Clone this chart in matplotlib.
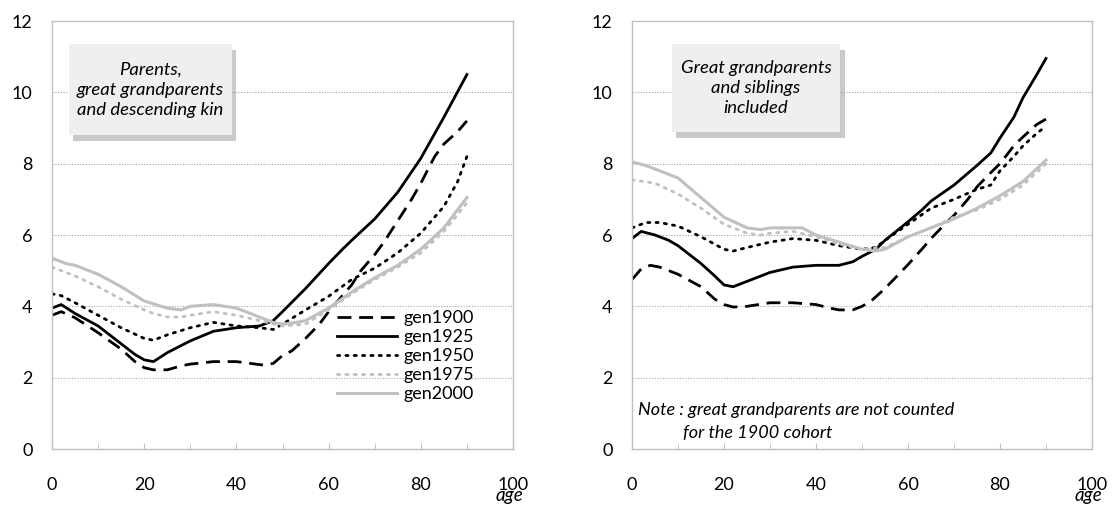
import matplotlib
matplotlib.use('Agg')
import numpy as np
import matplotlib.pyplot as plt
from matplotlib.patches import Rectangle
import matplotlib.patheffects as pe

plt.rcParams['font.family'] = ['Lato', 'DejaVu Sans']

# ── data: number of kin by age, per birth cohort ──
COHORTS = ['gen1900', 'gen1925', 'gen1950', 'gen1975', 'gen2000']

# left panel: parents, great grandparents and descending kin
l_1900_x = [0, 2, 5, 10, 15, 18, 20, 22, 25, 28, 30, 35, 40, 43, 46, 48, 50, 52, 55, 58, 60, 63, 65, 67, 70, 72, 75, 78, 80, 83, 85, 88, 90]
l_1900_y = [3.75, 3.85, 3.68, 3.26, 2.8, 2.45, 2.28, 2.22, 2.22, 2.33, 2.38, 2.45, 2.45, 2.4, 2.35, 2.4, 2.62, 2.75, 3.1, 3.5, 3.85, 4.3, 4.6, 5.0, 5.45, 5.8, 6.4, 7.0, 7.45, 8.2, 8.55, 8.9, 9.2]
l_1925_x = [0, 2, 5, 10, 15, 18, 20, 22, 25, 28, 30, 35, 40, 45, 48, 50, 55, 60, 63, 65, 70, 75, 80, 85, 90]
l_1925_y = [3.95, 4.05, 3.8, 3.45, 2.95, 2.65, 2.5, 2.45, 2.7, 2.9, 3.03, 3.3, 3.4, 3.45, 3.6, 3.85, 4.5, 5.2, 5.6, 5.85, 6.45, 7.2, 8.15, 9.3, 10.5]
l_1950_x = [0, 2, 5, 10, 15, 20, 22, 25, 30, 35, 40, 45, 48, 50, 55, 60, 65, 70, 75, 80, 85, 88, 90]
l_1950_y = [4.35, 4.3, 4.1, 3.75, 3.4, 3.1, 3.05, 3.2, 3.4, 3.55, 3.45, 3.4, 3.35, 3.5, 3.9, 4.28, 4.75, 5.07, 5.5, 6.05, 6.8, 7.5, 8.2]
l_1975_x = [0, 5, 10, 15, 20, 22, 25, 28, 30, 35, 40, 45, 50, 55, 60, 65, 70, 75, 80, 85, 90]
l_1975_y = [5.1, 4.85, 4.55, 4.2, 3.9, 3.8, 3.7, 3.7, 3.75, 3.85, 3.75, 3.6, 3.45, 3.5, 3.9, 4.35, 4.75, 5.1, 5.5, 6.1, 6.9]
l_2000_x = [0, 3, 5, 10, 15, 20, 25, 28, 30, 35, 40, 45, 48, 50, 53, 55, 60, 65, 70, 75, 80, 85, 90]
l_2000_y = [5.35, 5.2, 5.15, 4.9, 4.55, 4.15, 3.95, 3.9, 4.0, 4.05, 3.95, 3.7, 3.55, 3.5, 3.55, 3.6, 3.95, 4.4, 4.8, 5.15, 5.6, 6.2, 7.05]

# right panel: great grandparents and siblings included
r_1900_x = [0, 2, 4, 6, 10, 15, 18, 20, 22, 25, 30, 35, 40, 43, 45, 48, 50, 52, 55, 58, 60, 63, 65, 68, 70, 73, 75, 78, 80, 83, 85, 88, 90]
r_1900_y = [4.75, 5.05, 5.15, 5.1, 4.9, 4.55, 4.2, 4.05, 3.98, 4.0, 4.1, 4.1, 4.05, 3.95, 3.9, 3.9, 4.0, 4.15, 4.5, 4.9, 5.17, 5.6, 5.9, 6.3, 6.55, 7.0, 7.35, 7.75, 8.0, 8.5, 8.75, 9.1, 9.25]
r_1925_x = [0, 2, 5, 8, 10, 15, 18, 20, 22, 25, 30, 35, 40, 45, 48, 50, 53, 55, 60, 63, 65, 70, 75, 78, 80, 83, 85, 88, 90]
r_1925_y = [5.9, 6.1, 6.0, 5.85, 5.7, 5.2, 4.85, 4.6, 4.55, 4.7, 4.95, 5.1, 5.15, 5.15, 5.25, 5.4, 5.6, 5.85, 6.37, 6.7, 6.95, 7.4, 7.95, 8.3, 8.72, 9.3, 9.85, 10.5, 10.95]
r_1950_x = [0, 3, 6, 10, 15, 20, 22, 25, 30, 35, 40, 45, 50, 53, 55, 60, 65, 70, 75, 78, 80, 83, 85, 88, 90]
r_1950_y = [6.2, 6.35, 6.35, 6.25, 5.95, 5.6, 5.55, 5.65, 5.8, 5.9, 5.85, 5.7, 5.6, 5.65, 5.85, 6.3, 6.75, 7.0, 7.28, 7.4, 7.8, 8.2, 8.5, 8.85, 9.05]
r_1975_x = [0, 5, 10, 15, 20, 25, 28, 30, 35, 40, 45, 50, 55, 60, 65, 70, 75, 80, 85, 90]
r_1975_y = [7.55, 7.45, 7.15, 6.75, 6.3, 6.05, 6.0, 6.05, 6.1, 5.95, 5.75, 5.6, 5.65, 5.95, 6.2, 6.5, 6.7, 7.0, 7.4, 8.0]
r_2000_x = [0, 3, 5, 10, 15, 20, 25, 28, 30, 35, 37, 40, 45, 50, 53, 55, 60, 65, 70, 75, 80, 85, 90]
r_2000_y = [8.05, 7.95, 7.85, 7.6, 7.05, 6.5, 6.2, 6.15, 6.2, 6.2, 6.2, 6.0, 5.8, 5.6, 5.55, 5.6, 5.95, 6.2, 6.45, 6.75, 7.1, 7.5, 8.1]

left_series  = [(l_1900_x, l_1900_y), (l_1925_x, l_1925_y), (l_1950_x, l_1950_y),
                (l_1975_x, l_1975_y), (l_2000_x, l_2000_y)]
right_series = [(r_1900_x, r_1900_y), (r_1925_x, r_1925_y), (r_1950_x, r_1950_y),
                (r_1975_x, r_1975_y), (r_2000_x, r_2000_y)]

# line styles per cohort
styles = [
    dict(color='black',   lw=2.0, ls=(0, (5, 2.8))),
    dict(color='black',   lw=2.0, ls='-'),
    dict(color='black',   lw=2.0, ls=(0, (0.8, 2.2)), dash_capstyle='round'),
    dict(color='#c0c0c0', lw=2.0, ls=(0, (0.8, 2.2)), dash_capstyle='round'),
    dict(color='#c0c0c0', lw=2.2, ls='-'),
]

W, H = 1112, 507
fig = plt.figure(figsize=(W / 100, H / 100), dpi=100)
ax_l = fig.add_axes([52 / W, 1 - 449 / H, 461 / W, 428 / H])
ax_r = fig.add_axes([632 / W, 1 - 449 / H, 460 / W, 428 / H])


def style_axis(ax):
    ax.set_xlim(0, 100)
    ax.set_ylim(0, 12)
    ax.set_xticks(np.arange(0, 101, 20))
    ax.set_xticks(np.arange(10, 100, 10), minor=True)
    ax.set_yticks(np.arange(0, 13, 2))
    ax.tick_params(axis='x', which='both', direction='in', length=4, color='#bfbfbf',
                   labelsize=13, pad=20)
    ax.tick_params(axis='y', length=0, labelsize=13, pad=14)
    for s in ax.spines.values():
        s.set_color('#bfbfbf')
        s.set_linewidth(1.0)
    for v in range(2, 12, 2):
        ax.axhline(v, color='#a6a6a6', lw=0.8, ls=(0, (1, 1.5)), zorder=0)
    ax.text(99.3, -1.3, 'age', ha='center', va='center', style='italic', fontsize=13.5,
            clip_on=False)


def text_box(ax, x0, x1, y0, y1, lines):
    rect = Rectangle((x0, y0), x1 - x0, y1 - y0, facecolor='#efefef', edgecolor='none',
                     zorder=3,
                     path_effects=[pe.SimplePatchShadow(offset=(3, -4), alpha=0.4, rho=0.5),
                                   pe.Normal()])
    ax.add_patch(rect)
    ax.text((x0 + x1) / 2, (y0 + y1) / 2, lines, ha='center', va='center', style='italic',
            fontsize=13.3, linespacing=1.3, zorder=4)


for ax, series in [(ax_l, left_series), (ax_r, right_series)]:
    style_axis(ax)
    for name, (xs, ys), st in zip(COHORTS, series, styles):
        ax.plot(xs, ys, label=name, zorder=2, **st)

text_box(ax_l, 3.7, 39.0, 8.8, 11.35, 'Parents,\ngreat grandparents\nand descending kin')
text_box(ax_r, 8.6, 45.3, 8.88, 11.35, 'Great grandparents\nand siblings\nincluded')

ax_r.text(1.3, 1.09, 'Note : great grandparents are not counted', style='italic',
          fontsize=13, va='center', ha='left')
ax_r.text(11.1, 0.45, 'for the 1900 cohort', style='italic',
          fontsize=13, va='center', ha='left')

leg = ax_l.legend(loc='upper right', bbox_to_anchor=(0.915, 0.325), frameon=False,
                  fontsize=13, handlelength=3.3, handletextpad=0.35,
                  labelspacing=0.17, borderaxespad=0, borderpad=0)

plt.savefig('out.png', dpi=100)
plt.close()
